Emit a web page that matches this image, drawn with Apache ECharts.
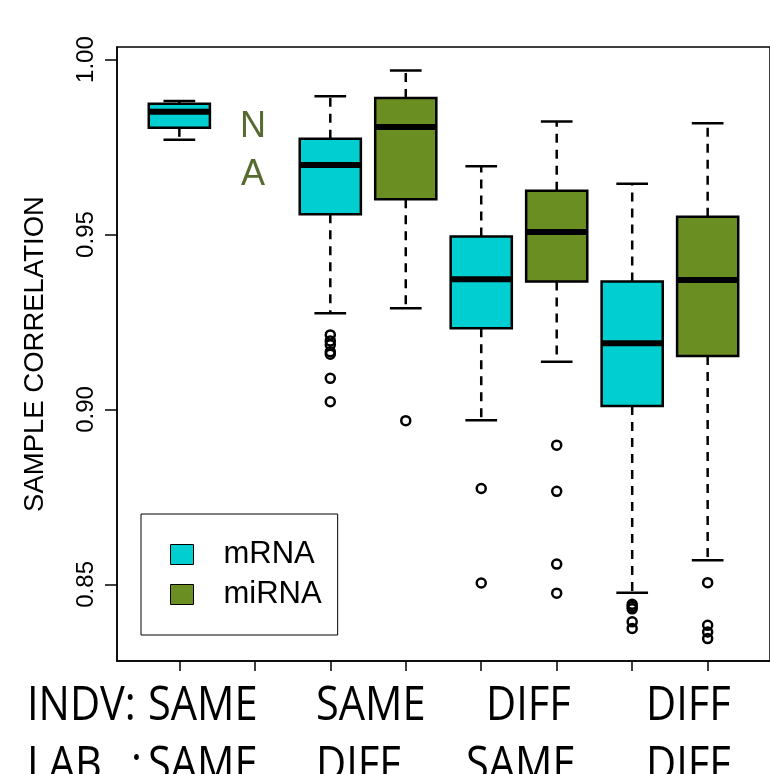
<!DOCTYPE html>
<html>
<head>
<meta charset="utf-8">
<script src="https://cdn.jsdelivr.net/npm/echarts@6/dist/echarts.min.js"></script>
<style>html,body{margin:0;padding:0;background:#fff;}#c{width:770px;height:774px;}</style>
</head>
<body>
<div id="c"></div>
<script>
// Groups: INDV / LAB
const indvLabels = ['SAME', 'SAME', 'DIFF', 'DIFF'];
const labLabels  = ['SAME', 'DIFF', 'SAME', 'DIFF'];
const yTicks = [0.85, 0.90, 0.95, 1.00];

// box stats: [lowerWhisker, Q1, median, Q3, upperWhisker]
const mrnaStats = [
  [0.9771, 0.9805, 0.9851, 0.9874, 0.9882],
  [0.9275, 0.9558, 0.9699, 0.9774, 0.9895],
  [0.8969, 0.9232, 0.9372, 0.9494, 0.9695],
  [0.8476, 0.9010, 0.9189, 0.9366, 0.9645]
];
const mirnaStats = [
  null, // NA
  [0.9289, 0.9601, 0.9807, 0.9890, 0.9969],
  [0.9136, 0.9366, 0.9507, 0.9625, 0.9823],
  [0.8569, 0.9153, 0.9370, 0.9551, 0.9818]
];
const mrnaOutliers = [
  [],
  [0.9213, 0.9196, 0.9185, 0.9165, 0.9158, 0.9089, 0.9022],
  [0.8774, 0.8504],
  [0.8443, 0.8437, 0.8430, 0.8393, 0.8374]
];
const mirnaOutliers = [
  [],
  [0.8968],
  [0.8898, 0.8766, 0.8558, 0.8475],
  [0.8505, 0.8383, 0.8364, 0.8345]
];

const CYAN = '#00CED1';
const OLIVE = '#6B8E23';
const positions = [];
indvLabels.forEach((_, i) => { positions.push(2 * i + 1, 2 * i + 2); });

function boxData(stats, offset) {
  const out = [];
  stats.forEach((s, i) => { if (s) out.push([2 * i + offset].concat(s)); });
  return out;
}
function outlierData(list, offset) {
  const out = [];
  list.forEach((arr, i) => arr.forEach(v => out.push([2 * i + offset, v])));
  return out;
}

function renderBox(params, api) {
  const x = api.value(0);
  const low = api.value(1), q1 = api.value(2), med = api.value(3), q3 = api.value(4), high = api.value(5);
  const cx = api.coord([x, med])[0];
  const yLow = api.coord([x, low])[1], yQ1 = api.coord([x, q1])[1], yMed = api.coord([x, med])[1];
  const yQ3 = api.coord([x, q3])[1], yHigh = api.coord([x, high])[1];
  const hw = api.size([0.405, 0])[0];
  const chw = api.size([0.21, 0])[0];
  const color = api.visual('color');
  const dash = { stroke: '#000', lineWidth: 2.5, lineDash: [9, 7] };
  const solid = { stroke: '#000', lineWidth: 2.5 };
  return {
    type: 'group',
    children: [
      { type: 'line', shape: { x1: cx, y1: yQ3, x2: cx, y2: yHigh }, style: dash },
      { type: 'line', shape: { x1: cx, y1: yQ1, x2: cx, y2: yLow }, style: dash },
      { type: 'line', shape: { x1: cx - chw, y1: yHigh, x2: cx + chw, y2: yHigh }, style: solid },
      { type: 'line', shape: { x1: cx - chw, y1: yLow, x2: cx + chw, y2: yLow }, style: solid },
      { type: 'rect', shape: { x: cx - hw, y: yQ3, width: 2 * hw, height: yQ1 - yQ3 },
        style: { fill: color, stroke: '#000', lineWidth: 2.5 } },
      { type: 'line', shape: { x1: cx - hw, y1: yMed, x2: cx + hw, y2: yMed },
        style: { stroke: '#000', lineWidth: 6 } }
    ]
  };
}

const chart = echarts.init(document.getElementById('c'), null, { renderer: 'canvas' });
const FONT = 'Liberation Sans';
const BOTTOM_FONT = 'Open Sans';

function word(text, left, cy) {
  return {
    type: 'text', x: left, y: cy, scaleX: 0.866, scaleY: 1,
    style: { text: text, font: '48px "' + BOTTOM_FONT + '"', fill: '#000',
             textAlign: 'left', textVerticalAlign: 'middle' }
  };
}

const row1 = 706, row2 = 766;
const wordLeft = [148, 316, 486, 646];
const wordLeft2 = [148, 316, 466, 646];
const graphics = [
  { type: 'text', x: 253, y: 127, style: { text: 'N', font: '36px "' + FONT + '"', fill: '#556B2F', textAlign: 'center', textVerticalAlign: 'middle' } },
  { type: 'text', x: 253, y: 175, style: { text: 'A', font: '36px "' + FONT + '"', fill: '#556B2F', textAlign: 'center', textVerticalAlign: 'middle' } },
  word('INDV:', 27, row1),
  word('LAB', 27, row2),
  word(':', 131, row2)
];
indvLabels.forEach((t, i) => graphics.push(word(t, wordLeft[i], row1)));
labLabels.forEach((t, i) => graphics.push(word(t, wordLeft2[i], row2)));

chart.setOption({
  animation: false,
  backgroundColor: '#fff',
  grid: { left: 117, top: 47, right: -5, bottom: 113, show: true, borderColor: '#000', borderWidth: 1.5, backgroundColor: 'transparent', containLabel: false },
  xAxis: {
    type: 'value', min: 0.174, max: 8.826,
    axisLine: { show: true, lineStyle: { color: '#000', width: 1.5 } },
    axisTick: { show: true, customValues: positions, length: 10, lineStyle: { color: '#000', width: 1.5 } },
    axisLabel: { show: false },
    splitLine: { show: false }
  },
  yAxis: {
    type: 'value', min: 0.8281, max: 1.0036,
    name: 'SAMPLE CORRELATION', nameLocation: 'middle', nameRotate: 90, nameGap: 68,
    nameTextStyle: { fontFamily: FONT, fontSize: 27.5, color: '#000' },
    axisLine: { show: true, lineStyle: { color: '#000', width: 1.5 } },
    axisTick: { show: true, customValues: yTicks, length: 12, lineStyle: { color: '#000', width: 1.5 } },
    axisLabel: { show: true, customValues: yTicks, rotate: 90, margin: 19, fontFamily: FONT, fontSize: 24, color: '#000',
                 formatter: v => Number(v).toFixed(2) },
    splitLine: { show: false }
  },
  legend: {
    data: ['mRNA', 'miRNA'], orient: 'vertical', left: 141, top: 514,
    borderColor: '#000', borderWidth: 1, padding: [25, 16, 25, 29], itemGap: 9,
    itemWidth: 23, itemHeight: 20, icon: 'rect',
    itemStyle: { borderColor: '#000', borderWidth: 1 },
    textStyle: { fontFamily: FONT, fontSize: 31, lineHeight: 31, color: '#000', padding: [0, 0, 0, 25] },
    backgroundColor: '#fff'
  },
  series: [
    { name: 'mRNA', type: 'custom', renderItem: renderBox, itemStyle: { color: CYAN },
      encode: { x: 0, y: [1, 2, 3, 4, 5] }, data: boxData(mrnaStats, 1), z: 2 },
    { name: 'miRNA', type: 'custom', renderItem: renderBox, itemStyle: { color: OLIVE },
      encode: { x: 0, y: [1, 2, 3, 4, 5] }, data: boxData(mirnaStats, 2), z: 2 },
    { name: 'mRNA outliers', type: 'scatter', symbol: 'circle', symbolSize: 9,
      itemStyle: { color: 'rgba(0,0,0,0)', borderColor: '#000', borderWidth: 2.5, opacity: 1 },
      data: outlierData(mrnaOutliers, 1), z: 3 },
    { name: 'miRNA outliers', type: 'scatter', symbol: 'circle', symbolSize: 9,
      itemStyle: { color: 'rgba(0,0,0,0)', borderColor: '#000', borderWidth: 2.5, opacity: 1 },
      data: outlierData(mirnaOutliers, 2), z: 3 }
  ],
  graphic: graphics
});
</script>
</body>
</html>
